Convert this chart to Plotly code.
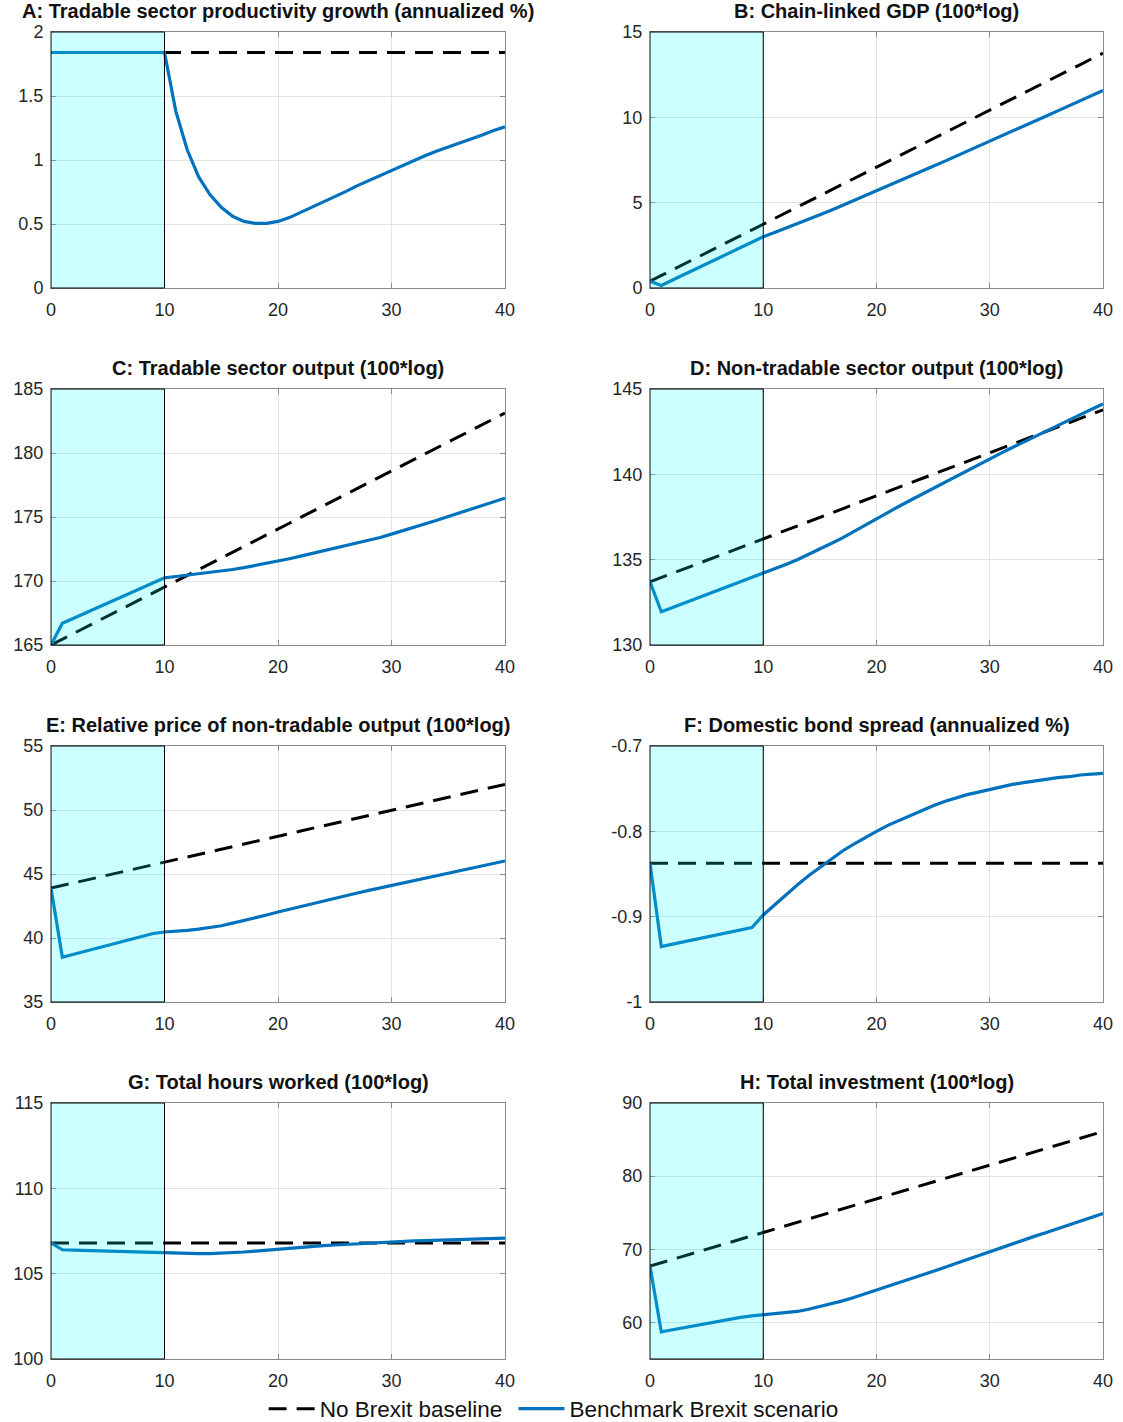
import plotly.graph_objects as go

W, H = 1123, 1422

quarters = list(range(41))

titles = [
    "A: Tradable sector productivity growth (annualized %)",
    "B: Chain-linked GDP (100*log)",
    "C: Tradable sector output (100*log)",
    "D: Non-tradable sector output (100*log)",
    "E: Relative price of non-tradable output (100*log)",
    "F: Domestic bond spread (annualized %)",
    "G: Total hours worked (100*log)",
    "H: Total investment (100*log)",
]

# --- Panel A ---
base_A = [1.84] * 41
brexit_A = [1.84, 1.84, 1.84, 1.84, 1.84, 1.84, 1.84, 1.84, 1.84, 1.84, 1.84,
            1.38, 1.08, 0.87, 0.73, 0.63, 0.56, 0.52, 0.505, 0.505, 0.52,
            0.55, 0.59, 0.63, 0.67, 0.71, 0.755, 0.80, 0.84, 0.88, 0.92,
            0.96, 1.00, 1.035, 1.07, 1.10, 1.135, 1.165, 1.195, 1.23, 1.26]

# --- Panel B ---
base_B = [0.40, 0.73, 1.07, 1.40, 1.74, 2.07, 2.40, 2.74, 3.07, 3.41, 3.74,
          4.07, 4.41, 4.74, 5.08, 5.41, 5.74, 6.08, 6.41, 6.75, 7.08,
          7.41, 7.75, 8.08, 8.42, 8.75, 9.08, 9.42, 9.75, 10.09, 10.42,
          10.75, 11.09, 11.42, 11.76, 12.09, 12.42, 12.76, 13.09, 13.43, 13.76]
brexit_B = [0.40, 0.15, 0.47, 0.78, 1.10, 1.42, 1.73, 2.05, 2.37, 2.68, 3.00,
            3.25, 3.50, 3.76, 4.02, 4.29, 4.56, 4.84, 5.12, 5.40, 5.68,
            5.97, 6.26, 6.55, 6.84, 7.13, 7.42, 7.71, 8.00, 8.29, 8.58,
            8.88, 9.18, 9.48, 9.78, 10.08, 10.38, 10.68, 10.98, 11.28, 11.58]

# --- Panel C ---
base_C = [165.00, 165.45, 165.91, 166.36, 166.81, 167.27, 167.72, 168.17, 168.62, 169.08, 169.53,
          169.98, 170.44, 170.89, 171.34, 171.80, 172.25, 172.70, 173.15, 173.61, 174.06,
          174.51, 174.97, 175.42, 175.87, 176.33, 176.78, 177.23, 177.68, 178.14, 178.59,
          179.04, 179.50, 179.95, 180.40, 180.86, 181.31, 181.76, 182.21, 182.67, 183.12]
brexit_C = [165.00, 166.70, 167.09, 167.49, 167.88, 168.28, 168.67, 169.07, 169.46, 169.86, 170.25,
            170.35, 170.45, 170.55, 170.65, 170.77, 170.90, 171.04, 171.20, 171.37, 171.55,
            171.74, 171.94, 172.14, 172.35, 172.56, 172.77, 172.96, 173.15, 173.40, 173.66,
            173.92, 174.19, 174.47, 174.75, 175.04, 175.32, 175.61, 175.90, 176.19, 176.47]

# --- Panel D ---
base_D = [133.70, 133.95, 134.20, 134.46, 134.71, 134.96, 135.21, 135.46, 135.72, 135.97, 136.22,
          136.47, 136.72, 136.98, 137.23, 137.48, 137.73, 137.98, 138.24, 138.49, 138.74,
          138.99, 139.24, 139.50, 139.75, 140.00, 140.25, 140.50, 140.76, 141.01, 141.26,
          141.51, 141.76, 142.02, 142.27, 142.52, 142.77, 143.02, 143.28, 143.53, 143.78]
brexit_D = [133.70, 131.95, 132.20, 132.45, 132.70, 132.95, 133.20, 133.45, 133.70, 133.95, 134.20,
            134.45, 134.72, 135.00, 135.30, 135.62, 135.95, 136.28, 136.65, 137.03, 137.43,
            137.78, 138.13, 138.48, 138.83, 139.18, 139.53, 139.88, 140.22, 140.57, 140.91,
            141.24, 141.57, 141.90, 142.23, 142.56, 142.87, 143.19, 143.50, 143.81, 144.12]

# --- Panel E ---
base_E = [43.90, 44.10, 44.31, 44.51, 44.71, 44.91, 45.12, 45.32, 45.52, 45.72, 45.93,
          46.13, 46.33, 46.53, 46.74, 46.94, 47.14, 47.34, 47.55, 47.75, 47.95,
          48.15, 48.36, 48.56, 48.76, 48.96, 49.17, 49.37, 49.57, 49.77, 49.98,
          50.18, 50.38, 50.58, 50.79, 50.99, 51.19, 51.39, 51.60, 51.80, 52.00]
brexit_E = [43.90, 38.50, 38.73, 38.96, 39.20, 39.43, 39.66, 39.89, 40.12, 40.35, 40.47,
            40.52, 40.60, 40.70, 40.82, 40.96, 41.16, 41.36, 41.57, 41.80, 42.03,
            42.25, 42.47, 42.69, 42.91, 43.13, 43.33, 43.52, 43.72, 43.91, 44.11,
            44.31, 44.51, 44.70, 44.90, 45.10, 45.28, 45.46, 45.65, 45.83, 46.02]

# --- Panel F ---
base_F = [-0.8375] * 41
brexit_F = [-0.8375, -0.935, -0.9322, -0.9294, -0.9266, -0.9238, -0.921, -0.9183, -0.9155, -0.9127, -0.898,
            -0.886, -0.874, -0.863, -0.852, -0.842, -0.832, -0.823, -0.815, -0.807, -0.800,
            -0.793, -0.787, -0.781, -0.775, -0.770, -0.765, -0.761, -0.757, -0.754, -0.751,
            -0.748, -0.745, -0.743, -0.741, -0.739, -0.737, -0.736, -0.734, -0.733, -0.732]

# --- Panel G ---
base_G = [106.8] * 41
brexit_G = [106.80, 106.40, 106.38, 106.36, 106.34, 106.32, 106.30, 106.28, 106.26, 106.24, 106.22,
            106.19, 106.17, 106.17, 106.18, 106.20, 106.23, 106.27, 106.32, 106.38, 106.44,
            106.50, 106.55, 106.60, 106.64, 106.68, 106.72, 106.76, 106.80, 106.83, 106.86,
            106.89, 106.92, 106.94, 106.96, 106.98, 107.00, 107.02, 107.04, 107.06, 107.08]

# --- Panel H ---
base_H = [67.70, 68.16, 68.62, 69.08, 69.54, 70.00, 70.46, 70.92, 71.38, 71.84, 72.30,
          72.76, 73.22, 73.68, 74.14, 74.60, 75.06, 75.52, 75.98, 76.44, 76.90,
          77.36, 77.82, 78.28, 78.74, 79.20, 79.66, 80.12, 80.58, 81.04, 81.50,
          81.96, 82.42, 82.88, 83.34, 83.80, 84.26, 84.72, 85.18, 85.64, 86.10]
brexit_H = [67.70, 58.70, 59.00, 59.30, 59.60, 59.90, 60.20, 60.45, 60.70, 60.90, 61.05,
            61.15, 61.30, 61.50, 61.80, 62.15, 62.55, 62.95, 63.40, 63.90, 64.40,
            64.90, 65.40, 65.90, 66.40, 66.95, 67.50, 68.05, 68.60, 69.10, 69.65,
            70.20, 70.75, 71.25, 71.80, 72.30, 72.80, 73.30, 73.85, 74.35, 74.90]

baselines = [base_A, base_B, base_C, base_D, base_E, base_F, base_G, base_H]
brexits = [brexit_A, brexit_B, brexit_C, brexit_D, brexit_E, brexit_F, brexit_G, brexit_H]

y_ranges = [[0, 2], [0, 15], [165, 185], [130, 145], [35, 55], [-1, -0.7], [100, 115], [55, 90]]
y_tickvals = [
    [0, 0.5, 1, 1.5, 2],
    [0, 5, 10, 15],
    [165, 170, 175, 180, 185],
    [130, 135, 140, 145],
    [35, 40, 45, 50, 55],
    [-1, -0.9, -0.8, -0.7],
    [100, 105, 110, 115],
    [60, 70, 80, 90],
]
y_ticktext = [
    ["0", "0.5", "1", "1.5", "2"],
    ["0", "5", "10", "15"],
    ["165", "170", "175", "180", "185"],
    ["130", "135", "140", "145"],
    ["35", "40", "45", "50", "55"],
    ["-1", "-0.9", "-0.8", "-0.7"],
    ["100", "105", "110", "115"],
    ["60", "70", "80", "90"],
]
x_tickvals = [0, 10, 20, 30, 40]
shade_end = 10

legend_names = ["No Brexit baseline\u00a0", "Benchmark Brexit scenario"]

COL_LEFT = (51, 505)
COL_RIGHT = (650, 1103)
ROW_TOPS = [32, 389, 746, 1103]
PLOT_H = 256

FONT = "Liberation Sans, Arial, Helvetica, sans-serif"
AXIS_GRAY = "#8a8a8a"
GRID = "#e3e3e3"
BLUE = "#0072BD"

fig = go.Figure()
layout = dict(
    template="none",
    width=W, height=H, autosize=False,
    margin=dict(l=0, r=0, t=0, b=0, pad=0, autoexpand=False),
    paper_bgcolor="white", plot_bgcolor="white",
    font=dict(family=FONT, color="#262626"),
    showlegend=True,
    legend=dict(orientation="h", x=0.493, xanchor="center", y=1 - 1409 / H, yanchor="middle",
                font=dict(size=22.5, color="#111111", family=FONT), itemwidth=46,
                bgcolor="rgba(0,0,0,0)", borderwidth=0, tracegroupgap=0),
)
annotations = []
shapes = []

for i in range(8):
    row, col = divmod(i, 2)
    cx = COL_LEFT if col == 0 else COL_RIGHT
    top = ROW_TOPS[row]
    xd = [cx[0] / W, cx[1] / W]
    yd = [1 - (top + PLOT_H) / H, 1 - top / H]
    n = i + 1
    xa = "xaxis" if n == 1 else f"xaxis{n}"
    ya = "yaxis" if n == 1 else f"yaxis{n}"
    xr = "x" if n == 1 else f"x{n}"
    yr = "y" if n == 1 else f"y{n}"

    fig.add_trace(go.Scatter(
        x=quarters, y=baselines[i], mode="lines", xaxis=xr, yaxis=yr,
        line=dict(color="black", width=3, dash="18px,10px"),
        name=legend_names[0], legendgroup="base", showlegend=(i == 0),
        hoverinfo="skip"))
    fig.add_trace(go.Scatter(
        x=quarters, y=brexits[i], mode="lines", xaxis=xr, yaxis=yr,
        line=dict(color=BLUE, width=3.2),
        name=legend_names[1], legendgroup="brexit", showlegend=(i == 0),
        hoverinfo="skip"))

    common = dict(showline=True, linecolor=AXIS_GRAY, linewidth=1, mirror="ticks",
                  ticks="inside", ticklen=5, tickcolor=AXIS_GRAY, tickwidth=1,
                  showgrid=True, gridcolor=GRID, gridwidth=1, zeroline=False,
                  automargin=False,
                  tickfont=dict(size=18, color="#262626", family=FONT), fixedrange=True)
    layout[xa] = dict(domain=xd, anchor=yr, range=[0, 40], tickmode="array",
                      tickvals=x_tickvals, ticktext=[str(v) for v in x_tickvals],
                      ticklabelstandoff=5, **common)
    layout[ya] = dict(domain=yd, anchor=xr, range=y_ranges[i], tickmode="array",
                      tickvals=y_tickvals[i], ticktext=y_ticktext[i],
                      ticklabelstandoff=3, **common)

    shapes.append(dict(type="rect", xref=xr, yref=f"{yr} domain", x0=0, x1=shade_end, y0=0, y1=1,
                       fillcolor="rgba(0,255,255,0.2)", line=dict(color="black", width=1),
                       layer="above"))

    annotations.append(dict(text=f"<b>{titles[i]}</b>", xref="paper", yref="paper",
                            x=(cx[0] + cx[1]) / 2 / W, y=1 - (top - 21) / H,
                            xanchor="center", yanchor="middle", showarrow=False, borderpad=0,
                            font=dict(size=20, color="#111111", family=FONT)))

layout["annotations"] = annotations
layout["shapes"] = shapes
fig.update_layout(**layout)
fig.write_html("out.html", post_script="document.body.style.margin='0';document.body.style.padding='0';")
